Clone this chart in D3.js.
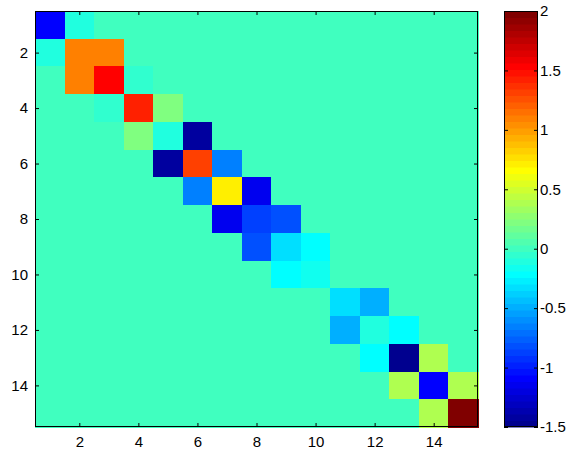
<!DOCTYPE html>
<html>
<head>
<meta charset="utf-8">
<script src="https://cdn.jsdelivr.net/npm/d3@7"></script>
<style>
  html, body { margin: 0; padding: 0; background: #fff; }
  svg { display: block; }
  text { font-family: "Liberation Sans", Arial, Helvetica, sans-serif; font-size: 15px; fill: #000; }
</style>
</head>
<body>
<svg id="chart" width="571" height="453"></svg>
<script>
// ---- data ----
const n = 15;
const diagValues    = [-1.09, 1.10, 1.53, 1.42, -0.10, 1.31, 0.72, -0.87, -0.32, -0.16, -0.32, -0.10, -1.47, -1.09, 1.97];
const offDiagValues = [-0.10, 1.10, -0.05, 0.22, -1.42, -0.65, -1.14, -0.82, -0.21, 0.00, -0.49, -0.21, 0.39, 0.39];
const xTickValues = [2, 4, 6, 8, 10, 12, 14];
const yTickValues = [2, 4, 6, 8, 10, 12, 14];
const colorTickValues = [-1.5, -1, -0.5, 0, 0.5, 1, 1.5, 2];
const cMin = -1.5, cMax = 2;

// build symmetric tridiagonal matrix
const cells = [];
for (let r = 1; r <= n; r++) {
  for (let c = 1; c <= n; c++) {
    let v = 0;
    if (r === c) v = diagValues[r - 1];
    else if (c === r + 1) v = offDiagValues[r - 1];
    else if (r === c + 1) v = offDiagValues[c - 1];
    cells.push({ r, c, v });
  }
}

// MATLAB jet(64)
const m = 64;
function jetRow(k) { // k 1-based
  const cl = x => Math.max(0, Math.min(1, x));
  const r = cl(Math.min((k - 24) / 16, (72 - k) / 16));
  const g = cl(Math.min((k - 8) / 16, (56 - k) / 16));
  const b = cl(Math.min((k + 8) / 16, (40 - k) / 16));
  return d3.rgb(Math.round(r * 255), Math.round(g * 255), Math.round(b * 255)).formatHex();
}
const jet = d3.range(1, m + 1).map(jetRow);
const colorScale = d3.scaleQuantize().domain([cMin, cMax]).range(jet);

// ---- layout ----
const svg = d3.select("#chart");
const plot = { left: 35, top: 11, right: 478, bottom: 427 };
const cbar = { left: 504, right: 538, top: 11, bottom: 427 };
const tickLen = 4;

const x = d3.scaleBand().domain(d3.range(1, n + 1)).range([plot.left, plot.right]).padding(0);
const y = d3.scaleBand().domain(d3.range(1, n + 1)).range([plot.top, plot.bottom]).padding(0);

// cells
svg.append("g").selectAll("rect").data(cells).join("rect")
  .attr("x", d => x(d.c))
  .attr("y", d => y(d.r))
  .attr("width", x.bandwidth() + 0.5)
  .attr("height", y.bandwidth() + 0.5)
  .attr("fill", d => colorScale(d.v))
  .attr("shape-rendering", "crispEdges");

// axes frame
const pw = plot.right - plot.left, ph = plot.bottom - plot.top;
svg.append("rect").attr("x", plot.left + 0.5).attr("y", plot.top + 0.5)
  .attr("width", pw - 1).attr("height", ph - 1)
  .attr("fill", "none").attr("stroke", "#000").attr("stroke-width", 1);

const axisX = d3.scaleLinear().domain([0.5, n + 0.5]).range([plot.left, plot.right]);
const axisY = d3.scaleLinear().domain([0.5, n + 0.5]).range([plot.top, plot.bottom]);

// bottom axis
const gx = svg.append("g").attr("transform", `translate(0,${plot.bottom})`)
  .call(d3.axisBottom(axisX).tickValues(xTickValues).tickSizeInner(-tickLen).tickSizeOuter(0).tickPadding(9));
gx.select(".domain").remove();
gx.selectAll("line").attr("stroke", "#000");
gx.selectAll("text").style("font-size", "15px").attr("fill", "#000");

// top ticks
const gxt = svg.append("g").attr("transform", `translate(0,${plot.top})`)
  .call(d3.axisTop(axisX).tickValues(xTickValues).tickSizeInner(-tickLen).tickSizeOuter(0).tickFormat(""));
gxt.select(".domain").remove();
gxt.selectAll("line").attr("stroke", "#000");

// left axis
const gy = svg.append("g").attr("transform", `translate(${plot.left},0)`)
  .call(d3.axisLeft(axisY).tickValues(yTickValues).tickSizeInner(-tickLen).tickSizeOuter(0).tickPadding(7));
gy.select(".domain").remove();
gy.selectAll("line").attr("stroke", "#000");
gy.selectAll("text").style("font-size", "15px").attr("fill", "#000");

// right ticks
const gyr = svg.append("g").attr("transform", `translate(${plot.right},0)`)
  .call(d3.axisRight(axisY).tickValues(yTickValues).tickSizeInner(-tickLen).tickSizeOuter(0).tickFormat(""));
gyr.select(".domain").remove();
gyr.selectAll("line").attr("stroke", "#000");

// ---- colorbar ----
const cy = d3.scaleLinear().domain([cMin, cMax]).range([cbar.bottom, cbar.top]);
const steps = d3.range(m).map(i => ({ lo: cMin + i * (cMax - cMin) / m, hi: cMin + (i + 1) * (cMax - cMin) / m, col: jet[i] }));
svg.append("g").selectAll("rect").data(steps).join("rect")
  .attr("x", cbar.left)
  .attr("y", d => cy(d.hi))
  .attr("width", cbar.right - cbar.left)
  .attr("height", d => cy(d.lo) - cy(d.hi) + 0.5)
  .attr("fill", d => d.col);

svg.append("rect").attr("x", cbar.left + 0.5).attr("y", cbar.top + 0.5)
  .attr("width", cbar.right - cbar.left - 1).attr("height", cbar.bottom - cbar.top - 1)
  .attr("fill", "none").attr("stroke", "#000");

const gc = svg.append("g").attr("transform", `translate(${cbar.right},0)`)
  .call(d3.axisRight(cy).tickValues(colorTickValues).tickSizeInner(-tickLen).tickSizeOuter(0)
    .tickPadding(2).tickFormat(d => String(d)));
gc.select(".domain").remove();
gc.selectAll("line").attr("stroke", "#000");
gc.selectAll("text").style("font-size", "15px").attr("fill", "#000");

const gcl = svg.append("g").attr("transform", `translate(${cbar.left},0)`)
  .call(d3.axisLeft(cy).tickValues(colorTickValues).tickSizeInner(-tickLen).tickSizeOuter(0).tickFormat(""));
gcl.select(".domain").remove();
gcl.selectAll("line").attr("stroke", "#000");
</script>
</body>
</html>
